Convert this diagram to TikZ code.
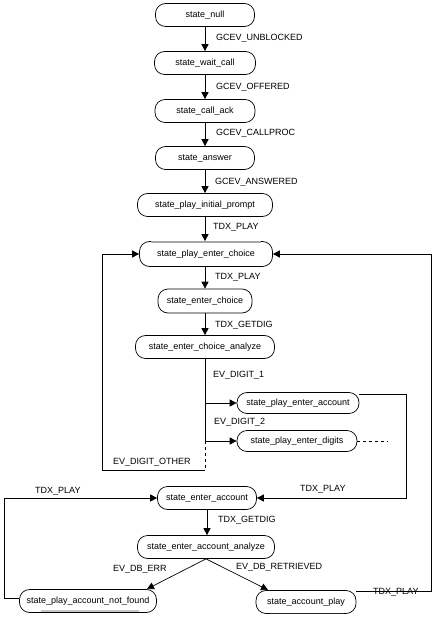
\documentclass[tikz,border=0pt]{standalone}
\usepackage{fontspec}
\setmainfont{Liberation Sans}
\usetikzlibrary{arrows.meta}
\begin{document}
\begin{tikzpicture}[x=1pt,y=-1pt,
  st/.style={draw,line width=0.7pt,rounded corners=10pt,minimum height=23pt,inner sep=0pt,font=\fontsize{9}{10}\selectfont},
  lbl/.style={anchor=west,inner sep=0pt,font=\fontsize{9}{10}\selectfont},
  conn/.style={line width=0.7pt},
  shd/.style={line width=1.6pt},
  arr/.style={line width=0.7pt,-{Triangle[length=7pt,width=7pt]}}]
\useasboundingbox (0,0) rectangle (438,617);
% states
\node[st,minimum width=99pt]  (null) at (205,15) {state\_null};
\node[st,minimum width=101pt] (wait) at (205,63) {state\_wait\_call};
\node[st,minimum width=100pt] (ack) at (205,111) {state\_call\_ack};
\node[st,minimum width=99pt]  (ans) at (205,158) {state\_answer};
\node[st,minimum width=135pt] (ini) at (205,205) {state\_play\_initial\_prompt};
\node[st,minimum width=133pt,minimum height=25pt] (pec) at (206,254) {state\_play\_enter\_choice};
\node[st,minimum width=94pt,minimum height=24pt]  (ec) at (205,301) {state\_enter\_choice};
\node[st,minimum width=139pt] (eca) at (205,347) {state\_enter\_choice\_analyze};
\node[st,minimum width=122pt,minimum height=21pt] (pea) at (298,403) {state\_play\_enter\_account};
\node[st,minimum width=120pt,minimum height=21pt] (ped) at (297,441) {state\_play\_enter\_digits};
\node[st,minimum width=99pt]  (ea) at (207,498) {state\_enter\_account};
\node[st,minimum width=137pt] (eaa) at (206,547) {state\_enter\_account\_analyze};
\node[st,minimum width=137pt] (nf) at (88,601) {state\_play\_account\_not\_found};
\node[st,minimum width=100pt] (ap) at (306,602) {state\_account\_play};
% shadow traces
\draw[shd,gray!70] ([xshift=12pt,yshift=-0.8pt]pec.north west) -- ([xshift=-12pt,yshift=-0.8pt]pec.north east);
\draw[shd,gray!45] ([xshift=22pt,yshift=1.6pt]nf.south west) -- ([xshift=-18pt,yshift=1.6pt]nf.south east);
\draw[shd,black!85] ([xshift=14pt,yshift=0.4pt]ap.south west) -- ([xshift=-12pt,yshift=0.4pt]ap.south east);
% coordinates
\coordinate (j1) at (205,403);
\coordinate (j2) at (205,441);
\coordinate (j3) at (205,470);
\coordinate (l1) at (102,470);
\coordinate (l2) at (102,254);
\coordinate (r1) at (406,394);
\coordinate (r2) at (406,498);
\coordinate (d1) at (388,441);
\coordinate (b1) at (431,591);
\coordinate (b2) at (431,254);
\coordinate (c1) at (4,598);
\coordinate (c2) at (4,498);
\coordinate (e1) at (147,589);
\coordinate (e2) at (268,590);
% main column
\draw[arr] (null) -- (wait);
\draw[arr] (wait) -- (ack);
\draw[arr] (ack) -- (ans);
\draw[arr] (ans) -- (ini);
\draw[arr] (ini.south) -- (pec.north -| ini.south);
\draw[arr] (pec.south -| ec.north) -- (ec.north);
\draw[arr] (ec) -- (eca);
\draw[conn] (eca.south) -- (j2);
\draw[arr] (j1) -- (pea.west);
\draw[arr] (j2) -- (ped.west);
\draw[conn,dashed] (j2) -- (j3);
\draw[arr] (j3) -- (l1) -- (l2) -- (pec.west);
\draw[arr] (pea.east |- r1) -- (r1) -- (r2) -- (ea.east);
\draw[conn,dashed] (ped.east) -- (d1);
\draw[arr] (ap.east |- b1) -- (b1) -- (b2) -- (pec.east);
\draw[arr] (nf.west |- c1) -- (c1) -- (c2) -- (ea.west);
\draw[arr] (ea.south) -- (eaa.north -| ea.south);
\draw[arr] (eaa.south) -- (e1);
\draw[arr] (eaa.south) -- (e2);
% labels
\node[lbl] (t1) at (216,38) {GCEV\_UNBLOCKED};
\node[lbl] (t2) at (216,87) {GCEV\_OFFERED};
\node[lbl] (t3) at (216,133) {GCEV\_CALLPROC};
\node[lbl] (t4) at (215,182) {GCEV\_ANSWERED};
\node[lbl] (t5) at (213,227) {TDX\_PLAY};
\node[lbl] (t6) at (215,277) {TDX\_PLAY};
\node[lbl] (t7) at (215,325) {TDX\_GETDIG};
\node[lbl] (t8) at (213,375) {EV\_DIGIT\_1};
\node[lbl] (t9) at (214,422) {EV\_DIGIT\_2};
\node[lbl] (t10) at (113,462) {EV\_DIGIT\_OTHER};
\node[lbl] (t11) at (35,491) {TDX\_PLAY};
\node[lbl] (t12) at (300,489) {TDX\_PLAY};
\node[lbl] (t13) at (218,520) {TDX\_GETDIG};
\node[lbl] (t14) at (113,569) {EV\_DB\_ERR};
\node[lbl] (t15) at (236,567) {EV\_DB\_RETRIEVED};
\node[lbl] (t16) at (373,592) {TDX\_PLAY};
\end{tikzpicture}
\end{document}
